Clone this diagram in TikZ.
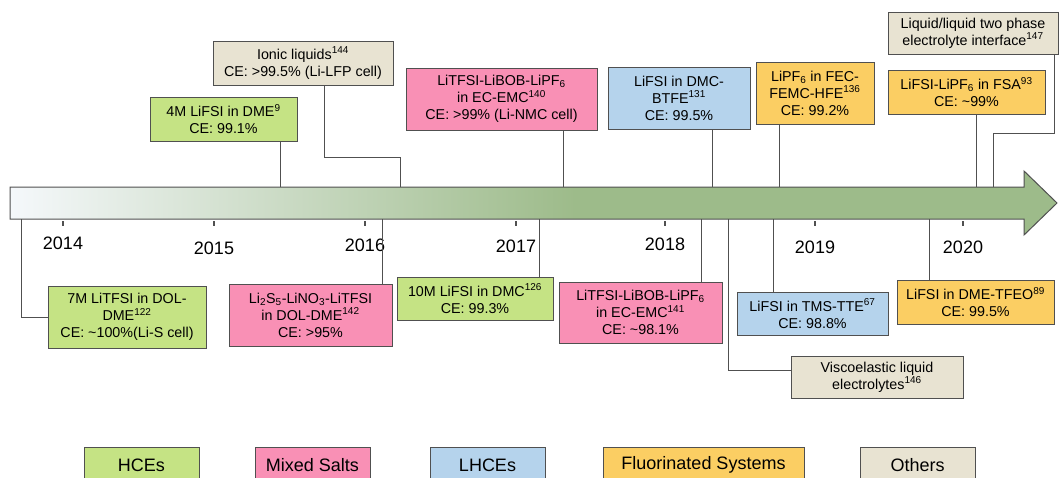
\documentclass[tikz,border=0pt]{standalone}
\usepackage{fontspec}
\setmainfont{Liberation Sans}
\usetikzlibrary{positioning}

\definecolor{hcegreen}{HTML}{C5E384}
\definecolor{mixpink}{HTML}{F990B5}
\definecolor{lhceblue}{HTML}{B5D3EC}
\definecolor{fluoorange}{HTML}{FBCE63}
\definecolor{otherbeige}{HTML}{E8E3D2}
\definecolor{arrowpale}{HTML}{F5F8FB}
\definecolor{arrowgreen}{HTML}{9DBB8A}
\definecolor{linegray}{HTML}{505050}
\pgfdeclarehorizontalshading{timeshade}{100bp}{color(0bp)=(arrowpale); color(25bp)=(arrowpale); color(52bp)=(arrowgreen); color(100bp)=(arrowgreen)}

\begin{document}
\begin{tikzpicture}[x=1pt,y=-1pt,
  evt/.style={draw=linegray,line width=1pt,align=center,inner sep=1pt,
    font=\fontsize{14.3}{17}\selectfont},
  hce/.style={evt,fill=hcegreen},
  mix/.style={evt,fill=mixpink},
  lhce/.style={evt,fill=lhceblue},
  fluo/.style={evt,fill=fluoorange},
  other/.style={evt,fill=otherbeige},
  conn/.style={draw=linegray,line width=0.9pt}]
\tikzstyle{year}=[font=\fontsize{18}{20}\selectfont]
\tikzstyle{legend}=[draw=linegray,line width=1pt,minimum width=115pt,minimum height=36pt,
  font=\fontsize{18}{20}\selectfont]
\clip (0,0) rectangle (1060,477);

\shadedraw[shading=timeshade,draw=linegray,line width=1pt]
  (10,187) -- (1024,187) -- (1024,171) -- (1057,203) -- (1024,235)
  -- (1024,219) -- (10,219) -- cycle;

\foreach \x/\yr/\ly in {63/2014/243,214/2015/248,365/2016/245,516/2017/246,
    665/2018/244,815/2019/247,963/2020/247}{
  \draw[linegray,line width=1.3pt] (\x,221) -- (\x,226);
  \node[year] (y\yr) at (\x,\ly) {\yr};
}

% above the time line
\node[hce,minimum width=147pt,minimum height=44pt] (dme) at (223.5,119)
  {4M LiFSI in DME\textsuperscript{9}\\CE: 99.1\%};
\node[other,minimum width=180pt,minimum height=44pt] (ionic) at (303,63)
  {Ionic liquids\textsuperscript{144}\\CE: >99.5\% (Li-LFP cell)};
\node[mix,minimum width=191pt,minimum height=62pt] (nmc) at (501.5,99)
  {LiTFSI-LiBOB-LiPF\textsubscript{6}\\in EC-EMC\textsuperscript{140}\\CE: >99\% (Li-NMC cell)};
\node[lhce,minimum width=142pt,minimum height=62pt] (btfe) at (679,98)
  {LiFSI in DMC-\\BTFE\textsuperscript{131}\\CE: 99.5\%};
\node[fluo,minimum width=118pt,minimum height=62pt] (hfe) at (815,93)
  {LiPF\textsubscript{6} in FEC-\\FEMC-HFE\textsuperscript{136}\\CE: 99.2\%};
\node[fluo,minimum width=157pt,minimum height=44pt] (fsa) at (966.5,92)
  {LiFSI-LiPF\textsubscript{6} in FSA\textsuperscript{93}\\CE: \textasciitilde99\%};
\node[other,minimum width=170pt,minimum height=42pt] (twophase) at (973,33)
  {Liquid/liquid two phase\\electrolyte interface\textsuperscript{147}};

% below the time line
\node[hce,minimum width=158pt,minimum height=62pt] (dol) at (127,317)
  {7M LiTFSI in DOL-\\DME\textsuperscript{122}\\CE: \textasciitilde100\%(Li-S cell)};
\node[mix,minimum width=163pt,minimum height=62pt] (lis) at (310.5,315)
  {Li\textsubscript{2}S\textsubscript{5}-LiNO\textsubscript{3}-LiTFSI\\in DOL-DME\textsuperscript{142}\\CE: >95\%};
\node[hce,minimum width=156pt,minimum height=43pt] (dmc) at (475,298.5)
  {10M LiFSI in DMC\textsuperscript{126}\\CE: 99.3\%};
\node[mix,minimum width=163pt,minimum height=61pt] (ecemc) at (640.5,312.5)
  {LiTFSI-LiBOB-LiPF\textsubscript{6}\\in EC-EMC\textsuperscript{141}\\CE: \textasciitilde98.1\%};
\node[lhce,minimum width=151pt,minimum height=43pt] (tms) at (812.5,313.5)
  {LiFSI in TMS-TTE\textsuperscript{67}\\CE: 98.8\%};
\node[other,minimum width=172pt,minimum height=42pt] (visco) at (877,377)
  {Viscoelastic liquid\\electrolytes\textsuperscript{146}};
\node[fluo,minimum width=157pt,minimum height=44pt] (tfeo) at (975.5,302)
  {LiFSI in DME-TFEO\textsuperscript{89}\\CE: 99.5\%};

\coordinate (a1) at (280,187);
\coordinate (a2) at (400,187);
\coordinate (a3) at (563,187);
\coordinate (a4) at (712,187);
\coordinate (a5) at (779,187);
\coordinate (a6) at (976,187);
\coordinate (a7) at (993,187);
\coordinate (b1) at (21,219);
\coordinate (b2) at (382,219);
\coordinate (b3) at (539,219);
\coordinate (b4) at (701,219);
\coordinate (b5) at (728,219);
\coordinate (b6) at (773,219);
\coordinate (b7) at (929,219);

\draw[conn] (dme.south -| a1) -- (a1);
\draw[conn] ([xshift=21pt]ionic.south) |- ([yshift=30pt]a2) -- (a2);
\draw[conn] (nmc.south -| a3) -- (a3);
\draw[conn] (btfe.south -| a4) -- (a4);
\draw[conn] (hfe.south -| a5) -- (a5);
\draw[conn] (fsa.south -| a6) -- (a6);
\draw[conn] ([xshift=81pt]twophase.south) |- ([yshift=54pt]a7) -- (a7);
\draw[conn] (b1) |- (dol.west);
\draw[conn] (b2) -- (lis.north -| b2);
\draw[conn] (b3) -- (dmc.north -| b3);
\draw[conn] (b4) -- (ecemc.north -| b4);
\draw[conn] (b5) |- ([yshift=7pt]visco.west);
\draw[conn] (b6) -- (tms.north -| b6);
\draw[conn] (b7) -- (tfeo.north -| b7);

% legend
\node[legend,fill=hcegreen] (lhces) at (141.5,465) {HCEs};
\node[legend,fill=mixpink] (lmix) at (312.5,465) {Mixed Salts};
\node[legend,fill=lhceblue] (llhce) at (487.5,465) {LHCEs};
\node[legend,fill=fluoorange,minimum width=201pt] (lfluo) at (703.5,465) {Fluorinated Systems};
\node[legend,fill=otherbeige] (lother) at (917.5,465) {Others};
\end{tikzpicture}
\end{document}
